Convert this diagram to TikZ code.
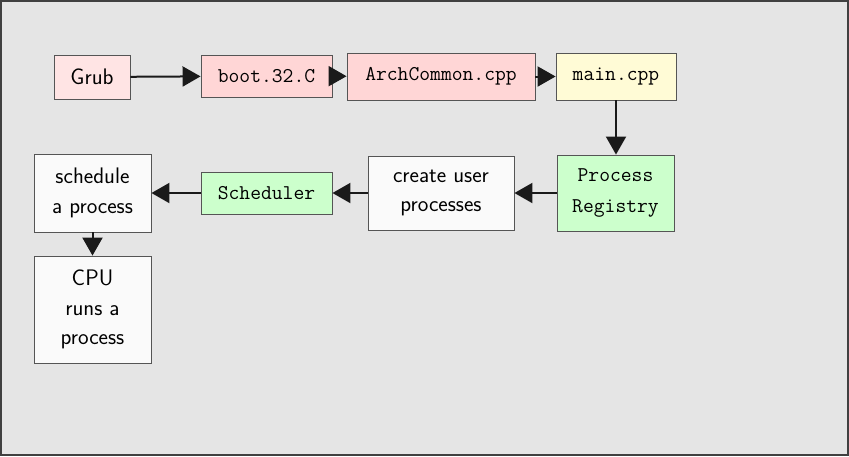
\documentclass[tikz,border=0pt]{standalone}
\usetikzlibrary{arrows.meta}
\definecolor{bggray}{HTML}{E5E5E5}
\definecolor{pinklight}{HTML}{FFE4E4}
\definecolor{pinkmid}{HTML}{FFD6D6}
\definecolor{yellowlight}{HTML}{FFFBD6}
\definecolor{greenlight}{HTML}{CCFFCC}
\definecolor{whitebox}{HTML}{FAFAFA}
\definecolor{boxline}{HTML}{555555}
\definecolor{arrowcol}{HTML}{1A1A1A}
\tikzset{
  box/.style={draw=boxline, line width=0.9pt, inner sep=0pt, align=center,
    font=\fontsize{22.5}{29.5}\selectfont\sffamily},
  monobox/.style={box, font=\fontsize{21}{31}\selectfont\ttfamily},
  conn/.style={draw=arrowcol, line width=2pt, -{Triangle[length=18pt,width=20pt]}}
}
\begin{document}
\begin{tikzpicture}[x=1pt,y=-1pt]
\path[fill=bggray, draw=black!75, line width=2pt] (1,1) rectangle (848,455);
\useasboundingbox (0,0) rectangle (849,456);
\node[box, fill=pinklight, minimum width=76pt, minimum height=44pt] (grub) at (92,77) {Grub};
\node[monobox, fill=pinkmid, minimum width=131pt, minimum height=42pt] (boot) at (266.5,76) {boot.32.C};
\node[monobox, fill=pinkmid, minimum width=188pt, minimum height=47pt] (arch) at (441,76.5) {ArchCommon.cpp};
\node[monobox, fill=yellowlight, minimum width=120pt, minimum height=47pt] (main) at (616,76.5) {main.cpp};
\node[monobox, fill=greenlight, minimum width=117pt, minimum height=76pt] (preg) at (615.5,193) {Process\\Registry};
\node[box, fill=whitebox, minimum width=146pt, minimum height=74pt] (cup) at (441,193) {create user\\processes};
\node[monobox, fill=greenlight, minimum width=131pt, minimum height=42pt] (sched) at (266.5,193) {Scheduler};
\node[box, fill=whitebox, minimum width=117pt, minimum height=78pt] (sap) at (92.5,193) {schedule\\a process};
\node[box, fill=whitebox, minimum width=117pt, minimum height=107pt] (cpu) at (92.5,309.5) {CPU\\runs a\\process};
\draw[conn] (grub) -- (boot);
\draw[conn] (boot) -- (arch);
\draw[conn] (arch) -- (main);
\draw[conn] (main) -- (main |- preg.north);
\draw[conn] (preg) -- (cup);
\draw[conn] (cup) -- (sched);
\draw[conn] (sched) -- (sap);
\draw[conn] (sap) -- (cpu);
\end{tikzpicture}
\end{document}
